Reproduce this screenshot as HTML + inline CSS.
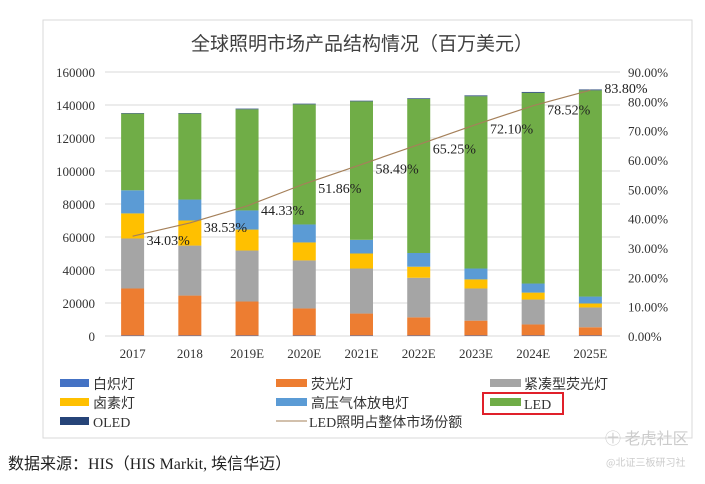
<!DOCTYPE html>
<html><head><meta charset="utf-8"><style>
body{margin:0;background:#fff;width:705px;height:479px;overflow:hidden;font-family:"Liberation Serif","Noto Serif CJK SC",serif;}
svg text{font-family:"Liberation Serif","Noto Sans CJK SC",serif;}
</style></head><body>
<svg id="chart" width="705" height="479" xmlns="http://www.w3.org/2000/svg">
<rect x="43" y="20" width="649" height="418" fill="#fff" stroke="#d9d9d9" stroke-width="1"/>
<text x="362" y="50" text-anchor="middle" font-size="19" fill="#404040" style="font-family:'Noto Sans CJK SC',sans-serif">全球照明市场产品结构情况（百万美元）</text>
<g id="grid"></g><g id="bars"></g><g id="line"></g><g id="labels"></g>
<g font-size="14" fill="#333">
<rect x="60" y="379" width="29" height="8" fill="#4472c4"/>
<text x="93" y="389" style="font-family:'Noto Sans CJK SC',sans-serif">白炽灯</text>
<rect x="276" y="379" width="31" height="8" fill="#ed7d31"/>
<text x="311" y="389" style="font-family:'Noto Sans CJK SC',sans-serif">荧光灯</text>
<rect x="490" y="379" width="31" height="8" fill="#a5a5a5"/>
<text x="524" y="389" style="font-family:'Noto Sans CJK SC',sans-serif">紧凑型荧光灯</text>
<rect x="60" y="398" width="29" height="8" fill="#ffc000"/>
<text x="93" y="408" style="font-family:'Noto Sans CJK SC',sans-serif">卤素灯</text>
<rect x="276" y="398" width="31" height="8" fill="#5b9bd5"/>
<text x="311" y="408" style="font-family:'Noto Sans CJK SC',sans-serif">高压气体放电灯</text>
<rect x="483" y="393" width="80" height="21" fill="none" stroke="#e0202a" stroke-width="2"/>
<rect x="490" y="398" width="31" height="8" fill="#70ad47"/>
<text x="524" y="409">LED</text>
<rect x="60" y="417" width="29" height="8" fill="#264478"/>
<text x="93" y="427">OLED</text>
<line x1="276" y1="421" x2="307" y2="421" stroke="#a5805a" stroke-width="1"/>
<text x="309" y="427"><tspan>LED</tspan><tspan style="font-family:'Noto Sans CJK SC',sans-serif">照明占整体市场份额</tspan></text>
</g>
<text x="8" y="469" font-size="16" fill="#222"><tspan style="font-family:'Noto Sans CJK SC',sans-serif">数据来源：</tspan>HIS（HIS Markit, <tspan style="font-family:'Noto Sans CJK SC',sans-serif">埃信华迈）</tspan></text>
<text x="605" y="444" font-size="16" fill="#ccc" style="font-family:'Noto Sans CJK SC',sans-serif">㊉ 老虎社区</text>
<text x="606" y="466" font-size="10" fill="#ccc" style="font-family:'Noto Sans CJK SC',sans-serif">@北证三板研习社</text>
</svg>
<script>
const categories=["2017","2018","2019E","2020E","2021E","2022E","2023E","2024E","2025E"];
const incandescent=[300,300,300,300,300,300,300,300,300];
const fluorescent=[28500,24200,20600,16400,13300,11000,9000,6700,5000];
const cfl=[30300,30300,30900,29100,27300,24000,19500,15100,12000];
const halogen=[15200,15200,12700,10900,9100,6700,5500,4200,2400];
const hid=[14000,12700,11600,10900,8300,8300,6600,5500,4200];
const led=[46500,52100,61300,72800,83900,93400,104400,115600,125000];
const oled=[300,300,400,400,400,400,500,500,500];
const ledShare=[34.03,38.53,44.33,51.86,58.49,65.25,72.10,78.52,83.80];
const leftTicks=[0,20000,40000,60000,80000,100000,120000,140000,160000];
const rightTicks=[0,10,20,30,40,50,60,70,80,90];
const NS="http://www.w3.org/2000/svg";
const plotL=105,plotR=620,y0=336,yTop=72;
const yL=v=>y0-v/160000*(y0-yTop);
const yR=p=>y0-p/90*(y0-yTop);
const step=(plotR-plotL)/categories.length;
const xC=i=>plotL+step*(i+0.5)-1;
function mk(t,a,parent,txt){const e=document.createElementNS(NS,t);for(const k in a)e.setAttribute(k,a[k]);if(txt!==undefined)e.textContent=txt;document.getElementById(parent).appendChild(e);return e;}
leftTicks.forEach((v,i)=>{
 const g=mk('line',{x1:plotL,x2:plotR,y1:yL(v),y2:yL(v),stroke:'#d9d9d9','stroke-width':1},'grid');
 
 
 const t=mk('text',{x:95,y:yL(v)+5,'text-anchor':'end','font-size':13,fill:'#333'},'labels',String(v));
 
 
});
rightTicks.forEach(p=>{
 const t=mk('text',{x:628,y:yR(p)+5,'font-size':13,fill:'#333'},'labels',p.toFixed(2)+'%');
 
 
});
const series=[[incandescent,'#4472c4','incandescent'],[fluorescent,'#ed7d31','fluorescent'],[cfl,'#a5a5a5','cfl'],[halogen,'#ffc000','halogen'],[hid,'#5b9bd5','hid'],[led,'#70ad47','led'],[oled,'#264478','oled']];
categories.forEach((c,i)=>{
 let acc=0;
 series.forEach(([arr,col,nm])=>{
  const v=arr[i];const yt=yL(acc+v),yb=yL(acc);
  const r=mk('rect',{x:xC(i)-11.5,y:yt,width:23,height:Math.max(yb-yt,0),fill:col},'bars');
  
  
  acc+=v;
 });
 const t=mk('text',{x:xC(i),y:358,'text-anchor':'middle','font-size':13,fill:'#333'},'labels',c);
 
 
});
const pl=mk('polyline',{points:ledShare.map((p,i)=>xC(i)+','+yR(p)).join(' '),fill:'none',stroke:'#a5805a','stroke-width':1.2},'line');


ledShare.forEach((p,i)=>{
 const t=mk('text',{x:xC(i)+14,y:yR(p)+9,'font-size':14,fill:'#222'},'labels',p.toFixed(2)+'%');
 if(i===categories.length-1){t.setAttribute('x',xC(i)+14);t.setAttribute('y',yR(p)+3);}
 
 
});
</script>
</body></html>
